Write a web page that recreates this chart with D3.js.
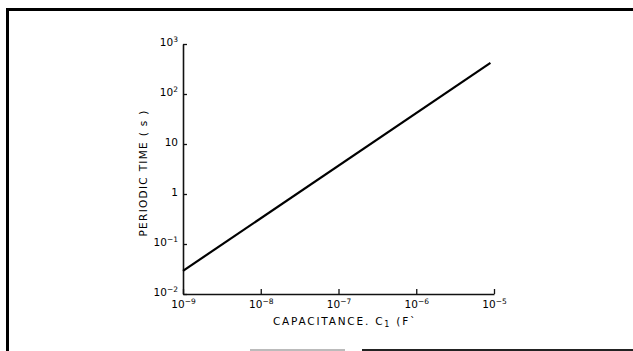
<!DOCTYPE html>
<html>
<head>
<meta charset="utf-8">
<script src="https://cdn.jsdelivr.net/npm/d3@7"></script>
<style>
  html, body { margin: 0; padding: 0; background: #fff; }
  svg { display: block; }
  text { font-family: "DejaVu Sans", sans-serif; fill: #000; }
</style>
</head>
<body>
<svg id="chart" width="633" height="351"></svg>
<script>
// Capacitance (F) and periodic time (s) at the ends of the measured line
const capacitance = [1e-9, 9e-6];
const periodicTime = [0.029, 420];

// Axis ticks and their labels (base, exponent)
const xTicks = [1e-9, 1e-8, 1e-7, 1e-6, 1e-5];
const xTickLabels = [["10", "−9"], ["10", "−8"], ["10", "−7"], ["10", "−6"], ["10", "−5"]];
const yTicks = [1e3, 1e2, 10, 1, 1e-1, 1e-2];
const yTickLabels = [["10", "3"], ["10", "2"], ["10", ""], ["1", ""], ["10", "−1"], ["10", "−2"]];

const xTitle = ["CAPACITANCE. C", "1", " (F`"];
const yTitle = "PERIODIC TIME ( s )";

const svg = d3.select("#chart");
const W = 633, H = 351;
const plot = { left: 183, right: 494, top: 44, bottom: 294 };

const x = d3.scaleLog().domain([1e-9, 1e-5]).range([plot.left, plot.right]);
const y = d3.scaleLog().domain([1e-2, 1e3]).range([plot.bottom, plot.top]);

// Outer frame (heavy top and left rules, partial bottom rule)
svg.append("line").attr("x1", 6).attr("x2", W).attr("y1", 9.5).attr("y2", 9.5)
  .attr("stroke", "#000").attr("stroke-width", 3);
svg.append("line").attr("x1", 7.5).attr("x2", 7.5).attr("y1", 8).attr("y2", H)
  .attr("stroke", "#000").attr("stroke-width", 3);
svg.append("line").attr("x1", 250).attr("x2", 345).attr("y1", 350).attr("y2", 350)
  .attr("stroke", "#bbb").attr("stroke-width", 2);
svg.append("line").attr("x1", 362).attr("x2", W).attr("y1", 350).attr("y2", 350)
  .attr("stroke", "#222").attr("stroke-width", 2);

// X axis: ticks point up into the plot
const xAxis = svg.append("g")
  .attr("transform", `translate(0,${plot.bottom})`)
  .call(d3.axisBottom(x).tickValues(xTicks).tickSize(-5).tickSizeOuter(0).tickFormat(""));
xAxis.select(".domain").attr("stroke", "#111").attr("stroke-width", 1.6);
xAxis.selectAll(".tick line").attr("stroke", "#111").attr("stroke-width", 1.3);
xAxis.selectAll(".tick").each(function(d, i) {
  const t = d3.select(this).append("text")
    .attr("y", 14).attr("text-anchor", "middle")
    .attr("font-size", 10.5).attr("fill", "#000");
  t.append("tspan").text(xTickLabels[i][0]);
  t.append("tspan").attr("dy", -4).attr("font-size", 7.5).text(xTickLabels[i][1]);
});

// Y axis: ticks point right into the plot
const yAxis = svg.append("g")
  .attr("transform", `translate(${plot.left},0)`)
  .call(d3.axisLeft(y).tickValues(yTicks).tickSize(-4).tickSizeOuter(0).tickFormat(""));
yAxis.select(".domain").attr("stroke", "#111").attr("stroke-width", 1.6);
yAxis.selectAll(".tick line").attr("stroke", "#111").attr("stroke-width", 1.3);
yAxis.selectAll(".tick").each(function(d, i) {
  const t = d3.select(this).append("text")
    .attr("x", -5).attr("dy", "0.1em").attr("text-anchor", "end")
    .attr("font-size", 10.5).attr("fill", "#000");
  t.append("tspan").text(yTickLabels[i][0]);
  if (yTickLabels[i][1]) {
    t.append("tspan").attr("dy", -4).attr("font-size", 7.5).text(yTickLabels[i][1]);
  }
});

// Data line
const line = d3.line().x((d, i) => x(capacitance[i])).y(d => y(d));
svg.append("path")
  .datum(periodicTime)
  .attr("d", line)
  .attr("fill", "none")
  .attr("stroke", "#000")
  .attr("stroke-width", 2.2);

// Axis titles
const xt = svg.append("text")
  .attr("x", 345).attr("y", 325).attr("text-anchor", "middle")
  .attr("font-size", 10.5).attr("letter-spacing", 1.8);
xt.append("tspan").text(xTitle[0]);
xt.append("tspan").attr("dy", 2).attr("font-size", 8).text(xTitle[1]);
xt.append("tspan").attr("dy", -2).text(xTitle[2]);

svg.append("text")
  .attr("transform", `translate(147,${(plot.top + plot.bottom) / 2 + 4}) rotate(-90)`)
  .attr("text-anchor", "middle")
  .attr("font-size", 10.5).attr("letter-spacing", 1.3)
  .text(yTitle);
</script>
</body>
</html>
